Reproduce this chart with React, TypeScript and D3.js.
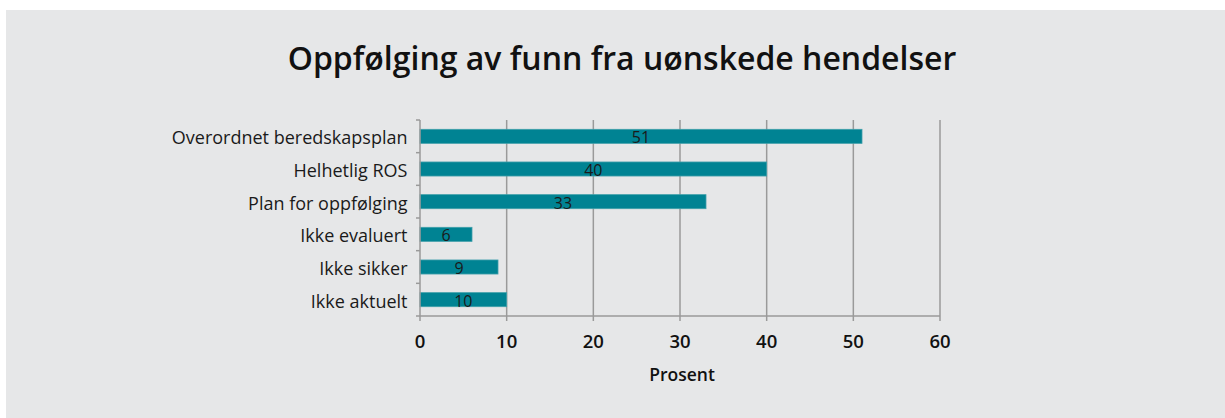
import { useMemo } from 'react';
import * as d3 from 'd3';

const categories = [
    'Overordnet beredskapsplan',
    'Helhetlig ROS',
    'Plan for oppfølging',
    'Ikke evaluert',
    'Ikke sikker',
    'Ikke aktuelt',
];
const values = [51, 40, 33, 6, 9, 10];
const xTicks = [0, 10, 20, 30, 40, 50, 60];

const WIDTH = 1225;
const HEIGHT = 418;
const FONT = '"Open Sans", Lato, sans-serif';
const BAR_COLOR = '#008393';
const GRID_COLOR = '#9a9a9a';

export default function App() {
    const x = useMemo(() => d3.scaleLinear().domain([0, 60]).range([420, 940]), []);
    const y = useMemo(
        () => d3.scaleBand<string>().domain(categories).range([120, 316]).paddingInner(0.57).paddingOuter(0.285),
        []
    );
    const band = d3.scaleBand<string>().domain(categories).range([120, 316]);
    const boundaries = [...categories.map((c) => band(c) ?? 0), 316];

    return (
        <svg
            width={WIDTH}
            height={HEIGHT}
            style={{ position: 'absolute', left: 0, top: 0 }}
            role="img"
            aria-label="Oppfølging av funn fra uønskede hendelser"
        >
            <rect x={0} y={0} width={WIDTH} height={HEIGHT} fill="#ffffff" />
            <rect x={6} y={10} width={WIDTH - 6} height={HEIGHT - 10} fill="#e6e7e8" />

            <text x={622} y={70} textAnchor="middle" fontFamily={FONT} fontSize={32} fontWeight={600} fill="#111">
                Oppfølging av funn fra uønskede hendelser
            </text>

            {xTicks.slice(1).map((t) => (
                <line key={`g${t}`} x1={x(t)} x2={x(t)} y1={120} y2={316} stroke={GRID_COLOR} strokeWidth={1.5} />
            ))}

            {categories.map((c, i) => (
                <rect
                    key={c}
                    x={x(0)}
                    y={y(c)}
                    width={x(values[i]) - x(0)}
                    height={y.bandwidth()}
                    fill={BAR_COLOR}
                    stroke="#3f9faa"
                    strokeWidth={0.8}
                />
            ))}

            <line x1={x(0)} x2={x(0)} y1={120} y2={316} stroke={GRID_COLOR} strokeWidth={1.5} />
            {boundaries.map((b, i) => (
                <line key={`yt${i}`} x1={x(0) - 4} x2={x(0)} y1={b} y2={b} stroke={GRID_COLOR} strokeWidth={1.5} />
            ))}
            <line x1={x(0)} x2={x(60)} y1={316} y2={316} stroke={GRID_COLOR} strokeWidth={1.5} />
            {xTicks.map((t) => (
                <line key={`xt${t}`} x1={x(t)} x2={x(t)} y1={316} y2={321} stroke={GRID_COLOR} strokeWidth={1.5} />
            ))}

            {categories.map((c, i) => (
                <text
                    key={`v${c}`}
                    x={x(values[i] / 2)}
                    y={(y(c) ?? 0) + y.bandwidth() / 2 + 7}
                    textAnchor="middle"
                    fontFamily={FONT}
                    fontSize={16}
                    fill="#1a1a1a"
                >
                    {values[i]}
                </text>
            ))}

            {categories.map((c) => (
                <text
                    key={`l${c}`}
                    x={407.5}
                    y={(y(c) ?? 0) + y.bandwidth() / 2 + 8}
                    textAnchor="end"
                    fontFamily={FONT}
                    fontSize={18}
                    fill="#1a1a1a"
                >
                    {c}
                </text>
            ))}

            {xTicks.map((t) => (
                <text
                    key={`xl${t}`}
                    x={x(t)}
                    y={348}
                    textAnchor="middle"
                    fontFamily={FONT}
                    fontSize={18.5}
                    fontWeight={600}
                    fill="#111"
                >
                    {t}
                </text>
            ))}

            <text x={682} y={380.5} textAnchor="middle" fontFamily={FONT} fontSize={17.5} fontWeight={600} fill="#111">
                Prosent
            </text>
        </svg>
    );
}
